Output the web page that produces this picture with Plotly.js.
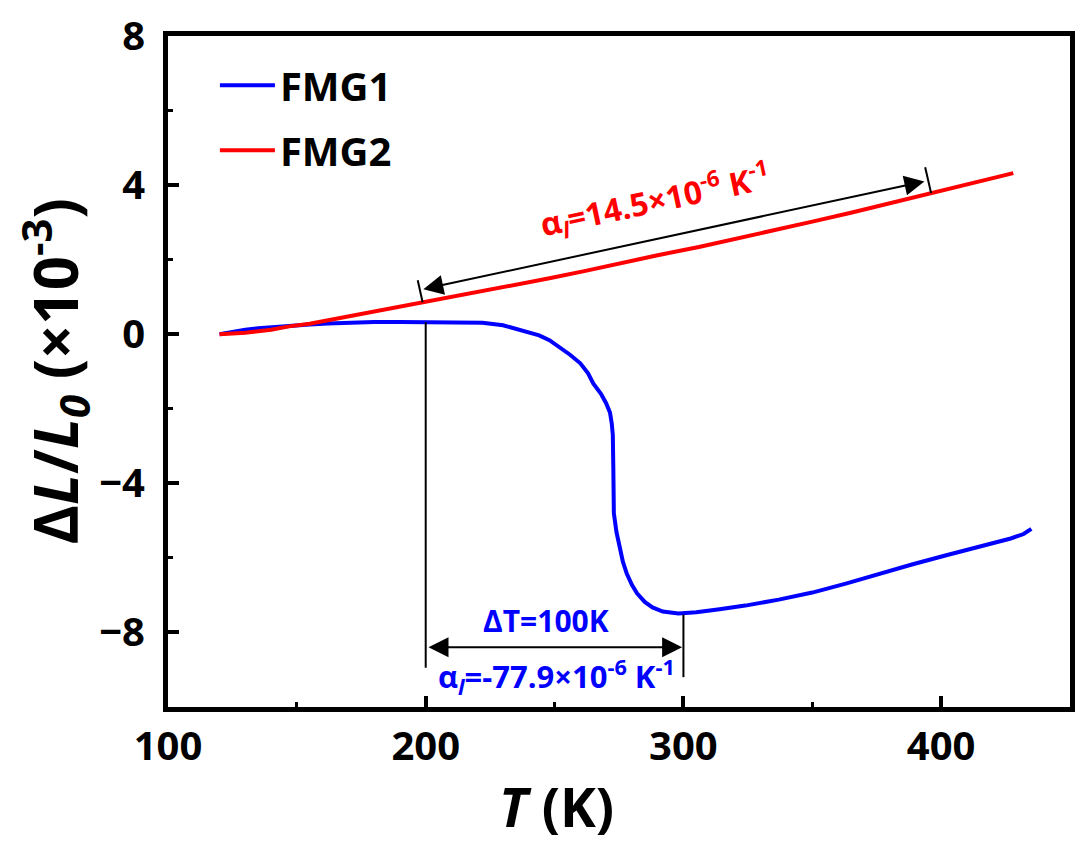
<!DOCTYPE html>
<html>
<head>
<meta charset="utf-8">
<script src="https://cdn.plot.ly/plotly-3.0.1.min.js"></script>
<style>html,body{margin:0;padding:0;background:#fff;}#chart{width:1075px;height:849px;}</style>
</head>
<body>
<div id="chart"></div>
<script>
// FMG1 (blue)
const fmg1T = [120,125,130,135,140,147,155,162,170,180,190,200,210,222,230,236,240,244,248,252,256,260,263,265,268,270,271.5,272.2,272.6,272.8,273,274,275.2,276.5,278,280,282,285,288,292,298,305,314,324,337,350,363,376,389,402,415,427,432,435];
const fmg1Y = [0,0.07,0.12,0.16,0.19,0.23,0.26,0.29,0.31,0.33,0.33,0.33,0.33,0.31,0.24,0.13,0.05,-0.03,-0.16,-0.35,-0.55,-0.78,-1.05,-1.32,-1.6,-1.85,-2.1,-2.4,-2.7,-3.6,-4.8,-5.3,-5.72,-6.1,-6.42,-6.72,-6.95,-7.18,-7.33,-7.44,-7.49,-7.46,-7.38,-7.28,-7.12,-6.93,-6.69,-6.42,-6.17,-5.93,-5.70,-5.48,-5.36,-5.22];
// FMG2 (red)
const fmg2T = [120,130,140,147,155,162,170,178,185,192,199,210,220,235,248,262,275,290,306,320,335,350,365,380,396,410,420,428];
const fmg2Y = [0,0.04,0.12,0.21,0.28,0.37,0.48,0.58,0.67,0.76,0.85,0.99,1.12,1.31,1.50,1.70,1.90,2.12,2.34,2.55,2.78,3.02,3.26,3.51,3.79,4.03,4.19,4.32];
const seriesNames = ['FMG1','FMG2'];
const seriesColors = ['#0000ff','#ff0000'];
// annotation values
const blueArrowY = -8.4;
const blueRange = [200, 300];
const redArrowStart = [198.5, 1.20];
const redArrowEnd = [393.5, 4.10];
const redText = 'α<sub><i>l</i></sub>=14.5×10<sup>-6</sup> K<sup>-1</sup>';
const blueText1 = 'ΔT=100K';
const blueText2 = 'α<sub><i>l</i></sub>=-77.9×10<sup>-6</sup> K<sup>-1</sup>';

const FONT = 'Open Sans, Noto Sans, sans-serif';

const traces = [
  {x: fmg1T, y: fmg1Y, name: seriesNames[0], mode: 'lines', line: {color: seriesColors[0], width: 4}, legendgroup: 'a'},
  {x: fmg2T, y: fmg2Y, name: seriesNames[1], mode: 'lines', line: {color: seriesColors[1], width: 4}, legendgroup: 'b'}
];

const axisCommon = {
  showline: true, linewidth: 5, linecolor: '#000', mirror: true,
  ticks: 'inside', ticklen: 11, tickwidth: 4, tickcolor: '#000',
  showgrid: false, zeroline: false,
  tickfont: {family: FONT, size: 40, color: '#000', weight: 'bold'}
};

const layout = {
  width: 1075, height: 849,
  margin: {l: 168, r: 5, t: 36, b: 142},
  paper_bgcolor: '#fff', plot_bgcolor: '#fff',
  font: {family: FONT, color: '#000'},
  xaxis: Object.assign({}, axisCommon, {
    range: [100, 450], tick0: 0, dtick: 100, ticklabelstandoff: 0,
    minor: {dtick: 50, ticks: 'inside', ticklen: 5, tickwidth: 3, tickcolor: '#000', showgrid: false}
  }),
  yaxis: Object.assign({}, axisCommon, {
    range: [-10, 8], tick0: 0, dtick: 4, ticklabelstandoff: 10,
    minor: {dtick: 2, ticks: 'inside', ticklen: 5, tickwidth: 3, tickcolor: '#000', showgrid: false}
  }),
  showlegend: true,
  legend: {
    x: 0.052, y: 0.975, xanchor: 'left', yanchor: 'top',
    bgcolor: 'rgba(0,0,0,0)', borderwidth: 0,
    font: {family: FONT, size: 40, color: '#000', weight: 'bold'},
    traceorder: 'grouped', tracegroupgap: 10, itemwidth: 55
  },
  shapes: [
    {type: 'line', xref: 'x', yref: 'y', x0: blueRange[0], x1: blueRange[0], y0: 0.32, y1: -8.95, line: {color: '#000', width: 2}},
    {type: 'line', xref: 'x', yref: 'y', x0: blueRange[1], x1: blueRange[1], y0: -7.52, y1: -9.2, line: {color: '#000', width: 2}},
    {type: 'line', xref: 'x', yref: 'y', x0: 196.9, x1: 198.8, y0: 1.45, y1: 0.86, line: {color: '#000', width: 2}},
    {type: 'line', xref: 'x', yref: 'y', x0: 393.8, x1: 396.1, y0: 4.48, y1: 3.79, line: {color: '#000', width: 2}}
  ],
  annotations: [
    {x: blueRange[1] - 0.5, y: blueArrowY, ax: blueRange[0] + 0.5, ay: blueArrowY, xref: 'x', yref: 'y', axref: 'x', ayref: 'y',
     text: '', showarrow: true, arrowhead: 2, arrowside: 'end+start', arrowsize: 2, arrowwidth: 2, arrowcolor: '#000'},
    {x: redArrowEnd[0], y: redArrowEnd[1], ax: redArrowStart[0], ay: redArrowStart[1], xref: 'x', yref: 'y', axref: 'x', ayref: 'y',
     text: '', showarrow: true, arrowhead: 2, arrowside: 'end+start', arrowsize: 2, arrowwidth: 2, arrowcolor: '#000'},
    {x: 246.5, y: -7.68, xref: 'x', yref: 'y', text: blueText1, showarrow: false,
     font: {family: FONT, size: 30, color: '#0000ff', weight: 'bold'}},
    {x: 250.8, y: -9.18, xref: 'x', yref: 'y', text: blueText2, showarrow: false,
     font: {family: FONT, size: 31, color: '#0000ff', weight: 'bold'}},
    {x: 289, y: 3.6, xref: 'x', yref: 'y', text: redText, showarrow: false, textangle: -12,
     font: {family: FONT, size: 32, color: '#ff0000', weight: 'bold'}},
    {x: 0.431, y: -0.1475, xref: 'paper', yref: 'paper', xanchor: 'center', yanchor: 'middle',
     text: '<i>T</i> (K)', showarrow: false, font: {family: FONT, size: 54, color: '#000', weight: 'bold'}},
    {x: -0.1253, y: 0.5, xref: 'paper', yref: 'paper', xanchor: 'center', yanchor: 'middle', textangle: -90,
     text: 'Δ<i>L</i>/<i>L<sub>0</sub></i> (×10<sup>-3</sup>)', showarrow: false,
     font: {family: FONT, size: 60, color: '#000', weight: 'bold'}}
  ]
};

Plotly.newPlot('chart', traces, layout, {displayModeBar: false, staticPlot: true});
</script>
</body>
</html>
